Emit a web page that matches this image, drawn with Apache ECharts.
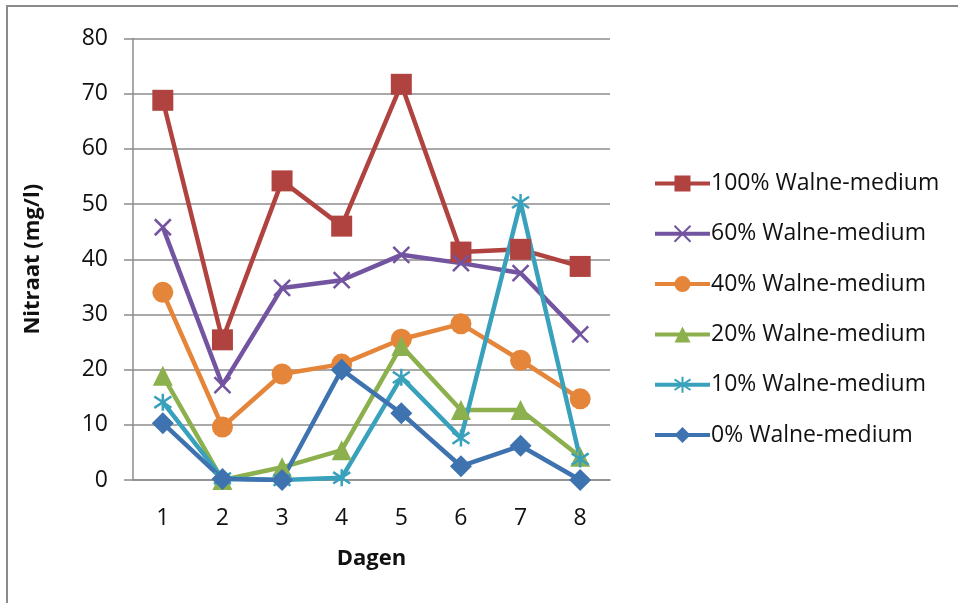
<!DOCTYPE html>
<html>
<head>
<meta charset="utf-8">
<script src="https://cdn.jsdelivr.net/npm/echarts@6/dist/echarts.min.js"></script>
<style>
  html, body { margin: 0; padding: 0; background: #fff; }
  #chart { width: 958px; height: 603px; }
</style>
</head>
<body>
<div id="chart"></div>
<script>
var dagen = ['1', '2', '3', '4', '5', '6', '7', '8'];
var names = ['100% Walne-medium', '60% Walne-medium', '40% Walne-medium',
             '20% Walne-medium', '10% Walne-medium', '0% Walne-medium'];
var walne100 = [68.8, 25.4, 54.2, 46.0, 71.7, 41.3, 41.8, 38.7];
var walne60  = [45.8, 17.2, 34.8, 36.2, 40.8, 39.3, 37.5, 26.4];
var walne40  = [34.0, 9.6, 19.2, 21.0, 25.5, 28.3, 21.7, 14.7];
var walne20  = [18.9, 0.0, 2.3, 5.4, 24.3, 12.7, 12.7, 4.2];
var walne10  = [14.1, 0.3, 0.0, 0.4, 18.6, 7.6, 50.3, 3.8];
var walne0   = [10.3, 0.2, 0.0, 20.0, 12.1, 2.5, 6.2, 0.0];
var yTicks = [0, 10, 20, 30, 40, 50, 60, 70, 80];

var colors = ['#b0433f', '#7354a0', '#e5853a', '#8db04e', '#39a1bb', '#3f73af'];
var crossPath = 'path://M0,0L10,10M0,10L10,0';
var starPath = 'path://M1,1L9,9M1,9L9,1M5,-1L5,11';

function lineSeries(idx, data, symbol, size, hollow) {
    var c = colors[idx];
    return {
        name: names[idx],
        type: 'line',
        data: data,
        symbol: symbol,
        symbolSize: size,
        lineStyle: { color: c, width: 4.5 },
        itemStyle: hollow
            ? { color: 'rgba(0,0,0,0)', borderColor: c, borderWidth: 2.5 }
            : { color: c, borderWidth: 0 },
        emphasis: { disabled: true }
    };
}

var myChart = echarts.init(document.getElementById('chart'));

var option = {
    animation: false,
    backgroundColor: '#fff',
    textStyle: { fontFamily: 'Open Sans' },
    graphic: [{
        type: 'rect',
        shape: { x: 7, y: 6, width: 1000, height: 700 },
        style: { fill: 'none', stroke: '#8a8a8a', lineWidth: 2 },
        silent: true
    }],
    grid: { left: 133, right: 348, top: 38.5, bottom: 123 },
    legend: {
        orient: 'vertical',
        left: 648,
        top: 167,
        itemWidth: 55,
        itemHeight: 20,
        itemGap: 27.3,
        data: names,
        lineStyle: { width: 4 },
        textStyle: { fontSize: 23, color: '#111', lineHeight: 22, padding: [0, 0, 0, -4] }
    },
    xAxis: {
        type: 'category',
        data: dagen,
        name: 'Dagen',
        nameLocation: 'middle',
        nameGap: 68,
        nameTextStyle: { fontSize: 22, fontWeight: 'bold', color: '#111' },
        axisLine: { lineStyle: { color: '#8c8c8c', width: 1.5 } },
        axisTick: { show: false },
        axisLabel: { fontSize: 23, color: '#111', margin: 27 }
    },
    yAxis: {
        type: 'value',
        min: yTicks[0],
        max: yTicks[yTicks.length - 1],
        interval: 10,
        name: 'Nitraat (mg/l)',
        nameLocation: 'middle',
        nameGap: 89,
        nameTextStyle: { fontSize: 22, fontWeight: 'bold', color: '#111' },
        axisLine: { show: true, lineStyle: { color: '#8c8c8c', width: 1.5 } },
        axisTick: { show: true, length: 9, lineStyle: { color: '#8c8c8c', width: 1.5 } },
        axisLabel: { fontSize: 23, color: '#111', margin: 25 },
        splitLine: { lineStyle: { color: '#8c8c8c', width: 1.5 } }
    },
    series: [
        lineSeries(0, walne100, 'rect', 21, false),
        lineSeries(1, walne60, crossPath, 16, true),
        lineSeries(2, walne40, 'circle', 21, false),
        lineSeries(3, walne20, 'triangle', 20, false),
        lineSeries(4, walne10, starPath, 17, true),
        lineSeries(5, walne0, 'diamond', 22, false)
    ]
};

myChart.setOption(option);
window.addEventListener('resize', function () {
    myChart.resize();
});
</script>
</body>
</html>
